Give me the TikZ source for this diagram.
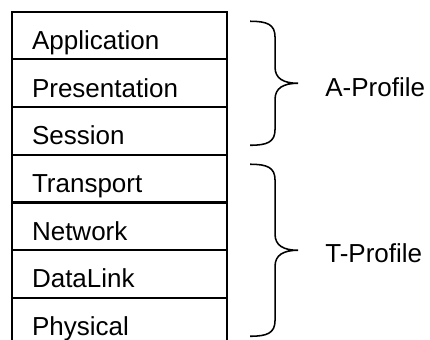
\documentclass[tikz,border=0pt]{standalone}
\usepackage{fontspec}
\setmainfont{Liberation Sans}
\usetikzlibrary{positioning,calc}
\tikzset{font={\fontsize{18.5pt}{22pt}\selectfont}}

\begin{document}
\begin{tikzpicture}[x=0.025cm,y=-0.025cm,
layer/.style={draw,line width=1.5pt,text width=4.375cm,inner xsep=0.5cm,inner ysep=0pt,
  outer sep=0pt,text height=0.9425cm,text depth=0.25cm,align=left},
profile/.style={anchor=base west,inner sep=0pt},
pics/profile brace/.style={code={
  \draw[line width=1.1pt] (-48,-#1) .. controls (-31,-#1) and (-23,-#1+3) .. (-23,-#1+16)
    -- (-23,-16) .. controls (-23,-5) and (-15,0) .. (0,0)
    .. controls (-15,0) and (-23,5) .. (-23,16)
    -- (-23,#1-16) .. controls (-23,#1-3) and (-31,#1) .. (-48,#1);}}
]
\clip (0,0) rectangle (430,340);

% the seven layers
\node[layer,anchor=north west] (app) at (12,11.7) {Application};
\node[layer,below=0pt of app] (pre) {Presentation};
\node[layer,below=0pt of pre] (ses) {Session};
\node[layer,below=0pt of ses] (tra) {Transport};
\node[layer,below=0pt of tra] (net) {Network};
\node[layer,below=0pt of net] (dl) {DataLink};
\node[layer,below=0pt of dl] (phy) {Physical};

% profiles
\coordinate (atip) at ($(app.north east)!0.5!(ses.south east)+(71,0)$);
\coordinate (ttip) at ($(tra.north east)!0.5!(phy.south east)+(71,0)$);
\pic at (atip) {profile brace=62};
\pic at (ttip) {profile brace=86};

\node[profile] (aprof) at ($(atip)+(27,13)$) {A-Profile};
\node[profile] (tprof) at ($(ttip)+(27,12)$) {T-Profile};

\end{tikzpicture}
\end{document}
